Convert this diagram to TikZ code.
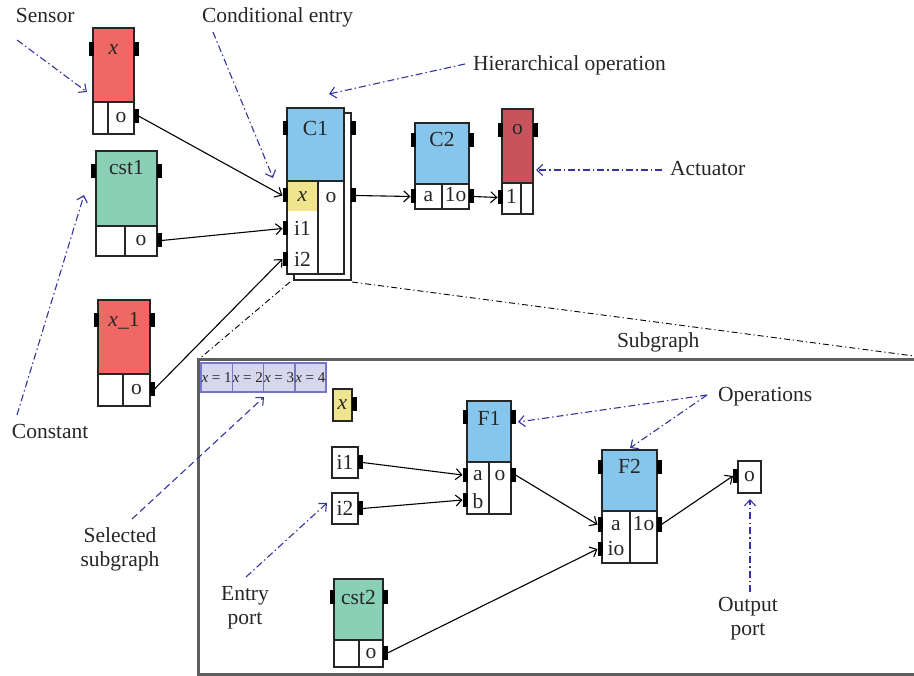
\documentclass[tikz,border=0pt]{standalone}
\usepackage{fontspec}
\setmainfont{Liberation Serif}
\usetikzlibrary{arrows.meta}
\definecolor{sred}{RGB}{239,104,100}
\definecolor{adred}{RGB}{199,84,92}
\definecolor{cgreen}{RGB}{138,208,182}
\definecolor{cblue}{RGB}{135,198,236}
\definecolor{cyel}{RGB}{240,228,140}
\definecolor{noteblue}{RGB}{52,52,160}
\definecolor{stripfill}{RGB}{214,214,236}
\definecolor{stripdraw}{RGB}{118,118,200}
\definecolor{framegray}{RGB}{95,95,95}
\begin{document}
\begin{tikzpicture}[x=1pt,y=-1pt,
  every node/.style={font=\fontsize{21.5}{24}\selectfont, inner sep=0pt, outer sep=0pt, text=black!85},
  blk/.style={draw=black!85, line width=1.4pt, anchor=north west},
  tab/.style={fill=black, draw=none, minimum width=5pt, minimum height=14pt},
  lbl/.style={anchor=base},
  ctext/.style={text height=9.5pt, text depth=0pt},
  conn/.style={draw=black, line width=1.1pt, -{Straight Barb[length=6pt,width=11pt]}},
  note/.style={draw=noteblue, line width=1.1pt, dash pattern=on 7pt off 3pt on 1.5pt off 3pt, -{Straight Barb[length=6pt,width=11pt]}},
  notedash/.style={draw=noteblue, line width=1.1pt, dash pattern=on 7pt off 4pt, -{Straight Barb[length=6pt,width=11pt]}},
  zoomline/.style={draw=black, line width=0.9pt, dash pattern=on 6pt off 3pt on 1.2pt off 3pt},
  ann/.style={font=\fontsize{21.5}{24}\selectfont},
  strip/.style={anchor=north west, fill=stripfill, draw=stripdraw, line width=1.5pt, minimum width=31.25pt, minimum height=29pt, font=\fontsize{15}{17}\selectfont}
]
\useasboundingbox (0,0) rectangle (914,676);

% ---------- Sensor x ----------
\node[blk, fill=sred, minimum width=41pt, minimum height=74pt] (Stop) at (93,28) {};
\node[blk, fill=white, minimum width=15pt, minimum height=32pt] (Sc1) at (93,102) {};
\node[blk, fill=white, minimum width=26pt, minimum height=32pt, ctext] (Sc2) at (108,102) {o};
\node[lbl] (Slbl) at (113.5,55) {\itshape x};
\node[tab] (Stl) at (91,49.5) {};
\node[tab] (Str) at (136,49.5) {};
\node[tab] (Sout) at (136,116) {};

% ---------- cst1 ----------
\node[blk, fill=cgreen, minimum width=61pt, minimum height=75pt] (K1top) at (96,151) {};
\node[blk, fill=white, minimum width=29pt, minimum height=30pt] (K1c1) at (96,226) {};
\node[blk, fill=white, minimum width=32pt, minimum height=30pt, ctext] (K1c2) at (125,226) {o};
\node[lbl] (K1lbl) at (126.5,175) {cst1};
\node[tab] (K1tl) at (93.5,171) {};
\node[tab] (K1tr) at (159,171) {};
\node[tab] (K1out) at (159,240.5) {};

% ---------- x_1 ----------
\node[blk, fill=sred, minimum width=52pt, minimum height=74pt] (X1top) at (98,300) {};
\node[blk, fill=white, minimum width=25pt, minimum height=32pt] (X1c1) at (98,374) {};
\node[blk, fill=white, minimum width=27pt, minimum height=32pt, ctext] (X1c2) at (123,374) {o};
\node[lbl] (X1lbl) at (124,327) {{\itshape x}\_1};
\node[tab] (X1tl) at (96,320.5) {};
\node[tab] (X1tr) at (152,320.5) {};
\node[tab] (X1out) at (152,389) {};

% ---------- C1 ----------
\node[blk, fill=white, minimum width=57pt, minimum height=167pt] (C1sh) at (294,113) {};
\node[blk, fill=cblue, minimum width=57pt, minimum height=73pt] (C1top) at (287,108) {};
\node[blk, fill=white, minimum width=31pt, minimum height=93pt] (C1lc) at (287,181) {};
\node[anchor=north west, fill=cyel, minimum width=30pt, minimum height=29pt] (C1xc) at (287.7,181.7) {};
\node[blk, fill=white, minimum width=26pt, minimum height=93pt] (C1rc) at (318,181) {};
\node[lbl] (C1lbl) at (315.5,136) {C1};
\node[ctext] (C1x) at (302.5,197) {\itshape x};
\node[ctext] (C1i1) at (302.5,230.5) {i1};
\node[ctext] (C1i2) at (302.5,261.5) {i2};
\node[ctext] (C1o) at (331,197.5) {o};
\node[tab] (C1tl) at (285,128) {};
\node[tab] (C1tr) at (353.5,128) {};
\node[tab] (C1px) at (285,195.5) {};
\node[tab] (C1pi1) at (285,228.5) {};
\node[tab] (C1pi2) at (285,259) {};
\node[tab] (C1out) at (353.5,195.5) {};

% ---------- C2 ----------
\node[blk, fill=cblue, minimum width=54pt, minimum height=61pt] (C2top) at (415,123) {};
\node[blk, fill=white, minimum width=27pt, minimum height=25pt, ctext] (C2c1) at (415,184) {a};
\node[blk, fill=white, minimum width=27pt, minimum height=25pt, ctext] (C2c2) at (442,184) {1o};
\node[lbl] (C2lbl) at (442,147) {C2};
\node[tab] (C2tl) at (413,140) {};
\node[tab] (C2tr) at (471,140) {};
\node[tab] (C2in) at (413,196.5) {};
\node[tab] (C2out) at (471,196.5) {};

% ---------- Actuator ----------
\node[blk, fill=adred, minimum width=31pt, minimum height=74pt] (Atop) at (502,109) {};
\node[blk, fill=white, minimum width=19pt, minimum height=31pt, ctext] (Ac1) at (502,183) {1};
\node[blk, fill=white, minimum width=12pt, minimum height=31pt] (Ac2) at (521,183) {};
\node[lbl] (Albl) at (517.5,135) {o};
\node[tab] (Atl) at (500,130) {};
\node[tab] (Atr) at (535,130) {};
\node[tab] (Ain) at (500,197.5) {};

% ---------- connectors (top) ----------
\draw[conn] (Sout.east) -- (C1px.west);
\draw[conn] (K1out.east) -- (C1pi1.west);
\draw[conn] (X1out.east) -- (C1pi2.west);
\draw[conn] (C1out.east) -- (C2in.west);
\draw[conn] (C2out.east) -- (Ain.west);

% ---------- zoom lines ----------
\coordinate (zA) at (290,282);
\coordinate (zB) at (198,360);
\coordinate (zC) at (352,282);
\coordinate (zD) at (914,356);
\draw[zoomline] (zA) -- (zB);
\draw[zoomline] (zC) -- (zD);

% ---------- subgraph frame ----------
\draw[framegray, line width=3pt] (916,360) -- (198,360) -- (198,674) -- (916,674);

% strip
\node[strip] (st1) at (201,363) {{\itshape x} = 1};
\node[strip] (st2) at (232.25,363) {{\itshape x} = 2};
\node[strip] (st3) at (263.5,363) {{\itshape x} = 3};
\node[strip] (st4) at (294.75,363) {{\itshape x} = 4};

% small x
\node[blk, fill=cyel, minimum width=19pt, minimum height=32pt, ctext] (Yx) at (333,389) {\itshape x};
\node[tab] (Yxout) at (354,404.5) {};

% i1, i2
\node[blk, fill=white, minimum width=26pt, minimum height=31pt] (I1) at (332,447) {i1};
\node[tab] (I1out) at (360,462.5) {};
\node[blk, fill=white, minimum width=26pt, minimum height=31pt] (I2) at (332,493) {i2};
\node[tab] (I2out) at (360,508.5) {};

% F1
\node[blk, fill=cblue, minimum width=44pt, minimum height=61pt] (F1top) at (467,401) {};
\node[blk, fill=white, minimum width=22pt, minimum height=52pt] (F1lc) at (467,462) {};
\node[blk, fill=white, minimum width=22pt, minimum height=52pt] (F1rc) at (489,462) {};
\node[lbl] (F1lbl) at (489,426) {F1};
\node[ctext] (F1ta) at (478,475.5) {a};
\node[ctext] (F1tb) at (478,503.5) {b};
\node[ctext] (F1to) at (500,475.5) {o};
\node[tab] (F1tl) at (465,417.5) {};
\node[tab] (F1tr) at (513,417.5) {};
\node[tab] (F1a) at (465,475) {};
\node[tab] (F1b) at (465,500) {};
\node[tab] (F1out) at (513,475) {};

% F2
\node[blk, fill=cblue, minimum width=55pt, minimum height=61pt] (F2top) at (602,450) {};
\node[blk, fill=white, minimum width=28pt, minimum height=52pt] (F2lc) at (602,511) {};
\node[blk, fill=white, minimum width=27pt, minimum height=52pt] (F2rc) at (630,511) {};
\node[lbl] (F2lbl) at (629.5,474) {F2};
\node[ctext] (F2ta) at (616,525.5) {a};
\node[ctext] (F2tio) at (616,551) {io};
\node[ctext] (F2to) at (643.5,525.5) {1o};
\node[tab] (F2tl) at (600,467) {};
\node[tab] (F2tr) at (659,467) {};
\node[tab] (F2a) at (600,524.5) {};
\node[tab] (F2io) at (600,549) {};
\node[tab] (F2out) at (659,524.5) {};

% output port
\node[blk, fill=white, minimum width=23pt, minimum height=32pt, ctext] (Op) at (738,461) {o};
\node[tab] (Oin) at (735.5,476) {};

% cst2
\node[blk, fill=cgreen, minimum width=49pt, minimum height=61pt] (K2top) at (334,579) {};
\node[blk, fill=white, minimum width=25pt, minimum height=27pt] (K2c1) at (334,640) {};
\node[blk, fill=white, minimum width=24pt, minimum height=27pt, ctext] (K2c2) at (359,640) {o};
\node[lbl] (K2lbl) at (358.5,604) {cst2};
\node[tab] (K2tl) at (332,596.5) {};
\node[tab] (K2tr) at (385,596.5) {};
\node[tab] (K2out) at (385,653) {};

% connectors (subgraph)
\draw[conn] (I1out.east) -- (F1a.west);
\draw[conn] (I2out.east) -- (F1b.west);
\draw[conn] (F1out.east) -- (F2a.west);
\draw[conn] (K2out.east) -- (F2io.west);
\draw[conn] (F2out.east) -- (Oin.west);

% ---------- annotations ----------
\node[ann, anchor=base west] (tSensor) at (16,23) {Sensor};
\node[ann, anchor=base west] (tCond) at (202,23) {Conditional entry};
\node[ann, anchor=base west] (tHier) at (473,71) {Hierarchical operation};
\node[ann, anchor=base west] (tAct) at (670,176) {Actuator};
\node[ann, anchor=base west] (tConst) at (12,439) {Constant};
\node[ann, anchor=base west] (tSub) at (617,348) {Subgraph};
\node[ann, anchor=base west] (tOps) at (718,402) {Operations};
\node[ann, align=center, anchor=base] (tSel) at (120,566) {Selected\\subgraph};
\node[ann, align=center, anchor=base] (tEntry) at (245,624) {Entry\\port};
\node[ann, align=center, anchor=base] (tOut) at (748,635) {Output\\port};

\coordinate (aS1) at (17,40);   \coordinate (aS2) at (87,92);
\coordinate (aC1) at (213,32);  \coordinate (aC2) at (273,178);
\coordinate (aH1) at (465,64);  \coordinate (aH2) at (329,94);
\coordinate (aA1) at (662,170); \coordinate (aA2) at (536,170);
\coordinate (aK1) at (17,415);  \coordinate (aK2) at (84,195);
\coordinate (aL1) at (132,519); \coordinate (aL2) at (264,397);
\coordinate (aE1) at (246,577); \coordinate (aE2) at (327,503);
\coordinate (aO1) at (707,395); \coordinate (aO2) at (518,422); \coordinate (aO3) at (630,448);
\coordinate (aP1) at (750,592); \coordinate (aP2) at (750,499);

\draw[note] (aS1) -- (aS2);
\draw[note] (aC1) -- (aC2);
\draw[note] (aH1) -- (aH2);
\draw[note] (aA1) -- (aA2);
\draw[note] (aK1) -- (aK2);
\draw[notedash] (aL1) -- (aL2);
\draw[note] (aE1) -- (aE2);
\draw[note] (aO1) -- (aO2);
\draw[note] (aO1) -- (aO3);
\draw[note] (aP1) -- (aP2);
\end{tikzpicture}
\end{document}
